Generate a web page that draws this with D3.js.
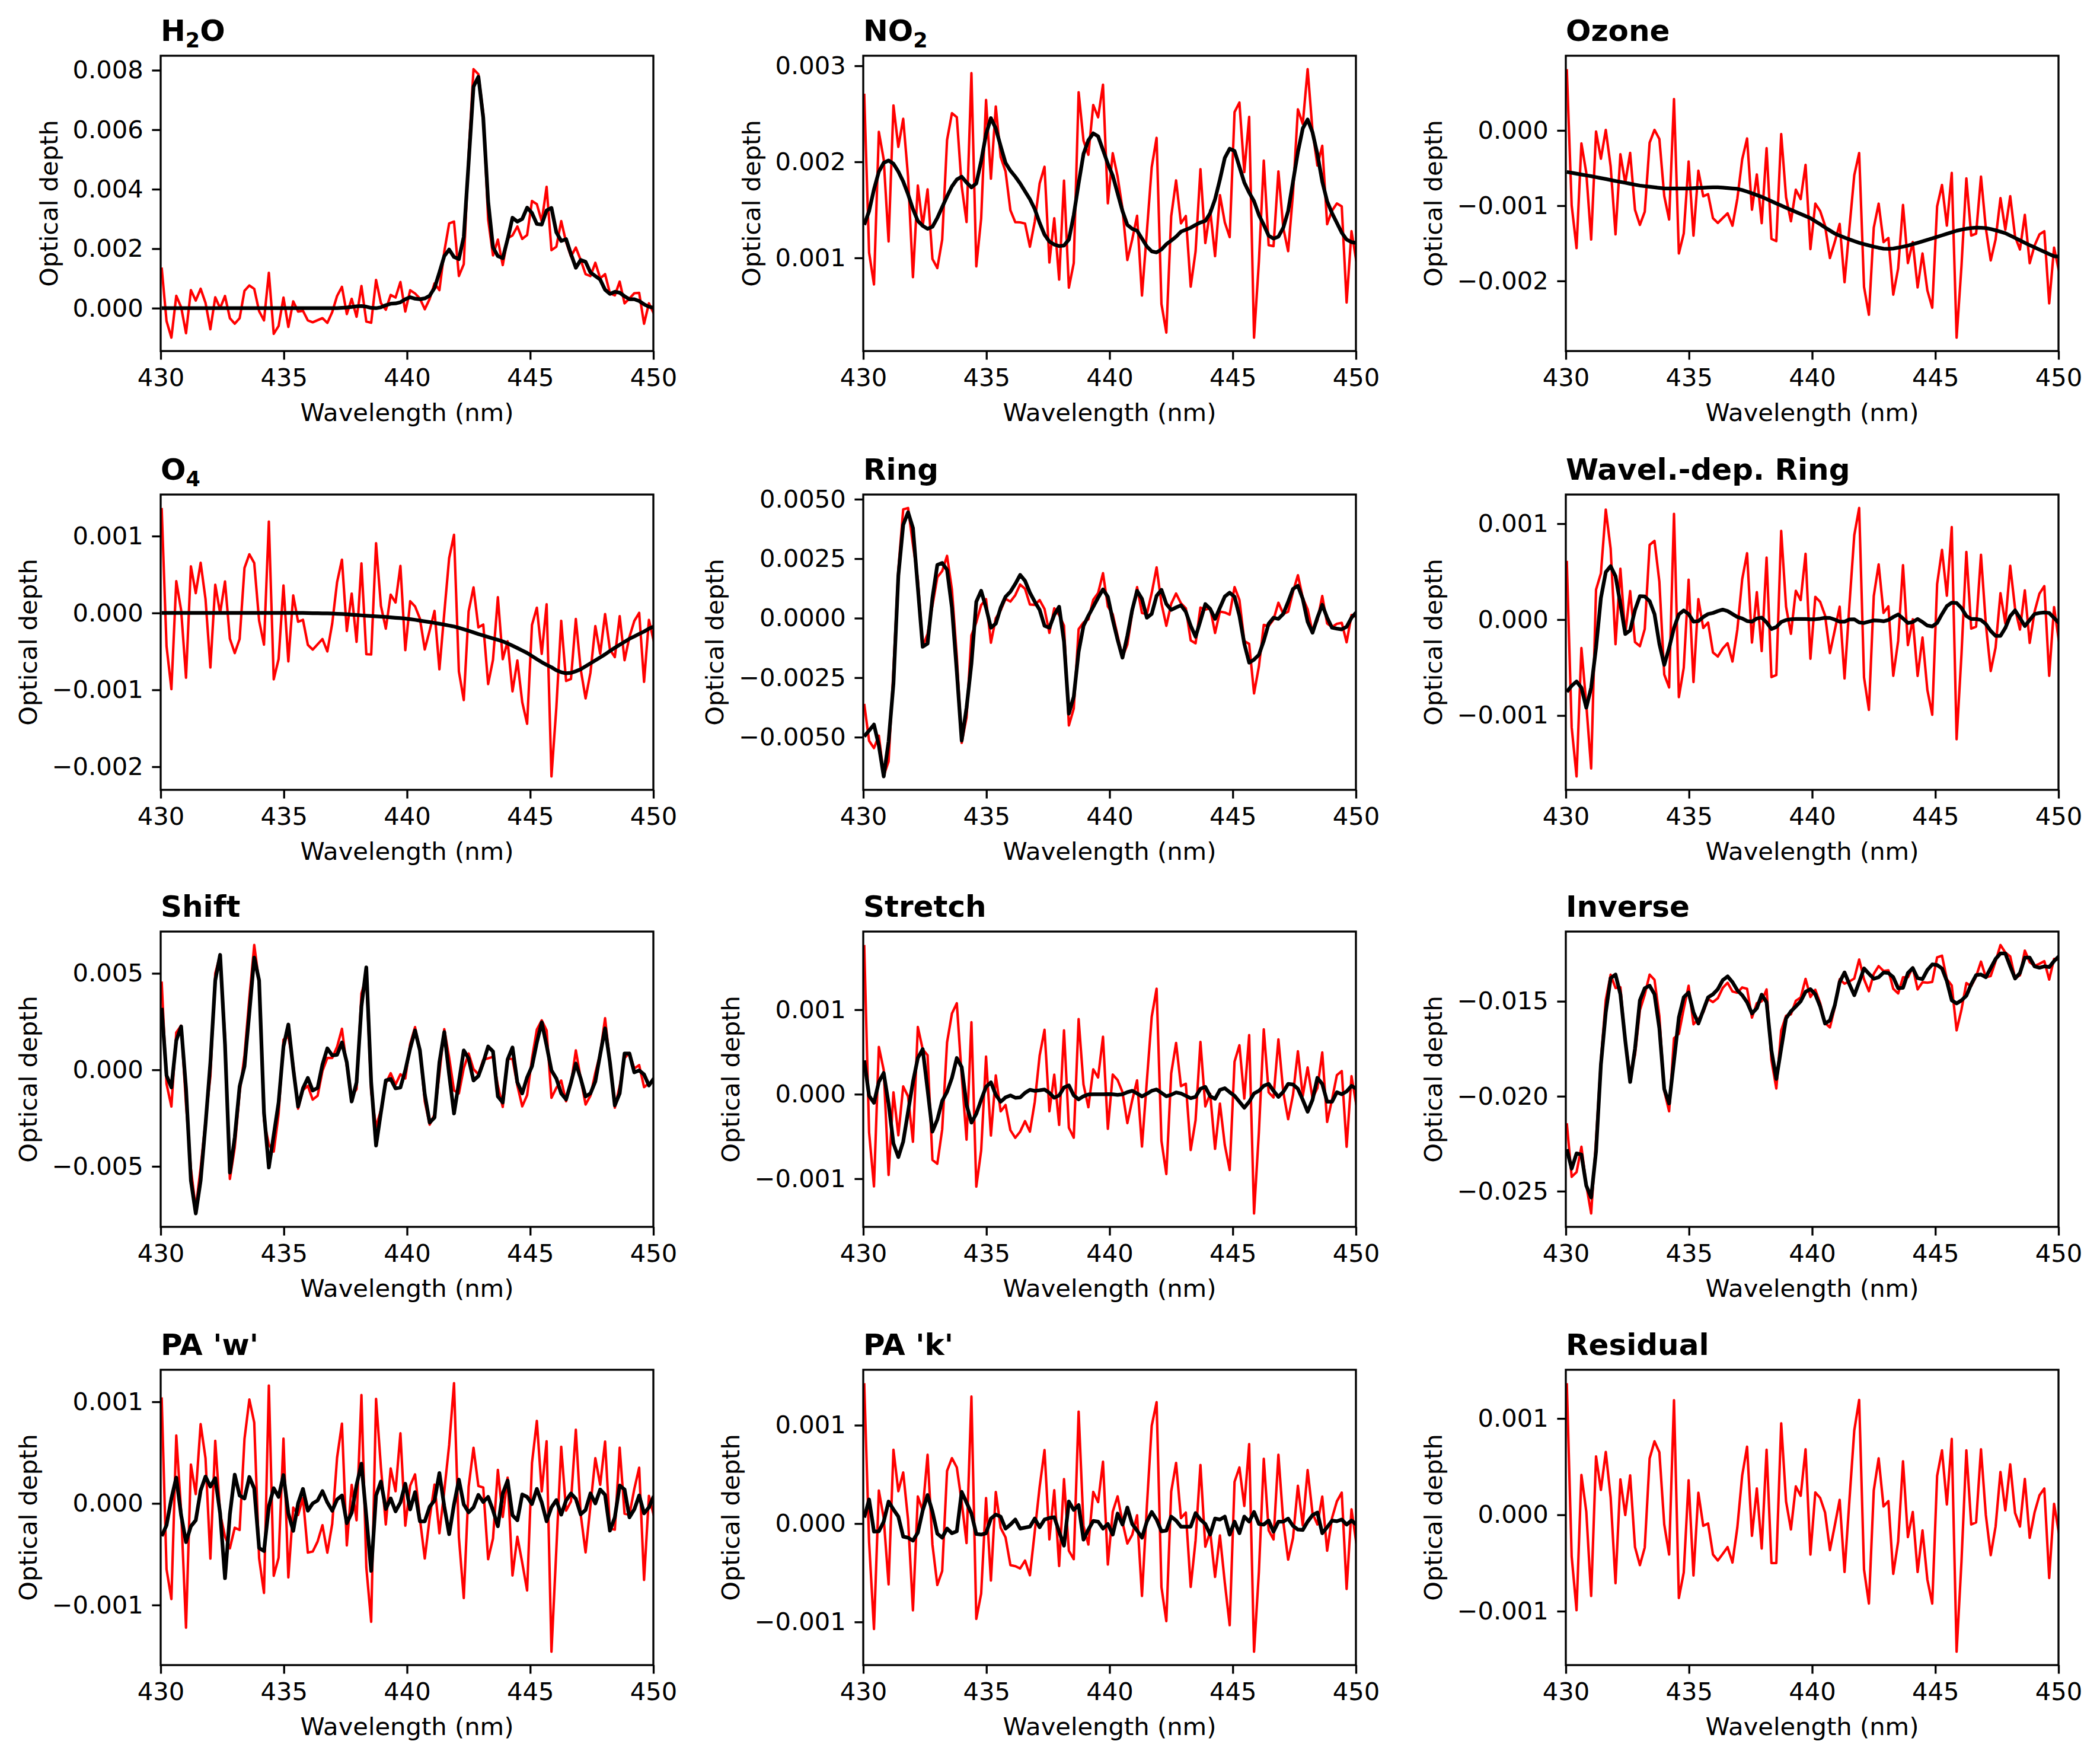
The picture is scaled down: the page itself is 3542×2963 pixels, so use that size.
<!DOCTYPE html>
<html lang="en">
<head>
<meta charset="utf-8">
<title>DOAS fit components</title>
<script src="https://cdn.jsdelivr.net/npm/d3@7"></script>
<style>
  body { margin: 0; background: #fff; }
  svg { display: block; font-family: "DejaVu Sans", sans-serif; }
</style>
</head>
<body>
<script>
// wavelength grid of the fit window (nm)
var nPoints = 102;
var wlStart = 430.04, wlStep = 0.1978;
var wavelengths = d3.range(nPoints).map(function (i) { return wlStart + i * wlStep; });

var residual = [
  1.366, -0.432, -0.990, 0.414, 0.035, -0.842, 0.607, 0.258, 0.653, 0.181,
  -0.709, 0.368, -0.002, 0.410, -0.335, -0.522, -0.339, 0.586, 0.763, 0.649,
  -0.100, -0.412, 1.189, -0.863, -0.599, 0.358, -0.630, 0.229, -0.114, -0.089,
  -0.412, -0.474, -0.405, -0.335, -0.495, -0.131, 0.410, 0.707, -0.218, 0.274,
  -0.349, 0.676, -0.501, -0.501, 0.950, 0.139, -0.152, 0.295, 0.198, 0.680,
  -0.412, 0.233, 0.175, 0.025, -0.366, -0.110, 0.156, -0.593, 0.150, 0.877,
  1.193, -0.568, -0.921, 0.254, 0.586, 0.087, 0.143, -0.613, -0.277, 0.555,
  -0.231, 0.029, -0.593, -0.162, -0.672, -0.921, 0.405, 0.669, 0.108, 0.788,
  -1.420, -0.484, 0.669, -0.100, -0.079, 0.680, -0.002, -0.418, -0.121, 0.445,
  0.046, 0.524, 0.019, -0.121, 0.372, -0.239, 0.025, 0.202, 0.274, -0.655,
  0.114, -0.193
];

var fitH2O = [
  0, 0, 0, 0, 0, 0, 0, 0, 0, 0,
  0, 0, 0, 0, 0, 0, 0, 0, 0, 0,
  0, 0, 0, 0, 0, 0, 0, 0, 0, 0,
  0, 0, 0, 0, 0, 0, 0, 0.01, 0.02, 0.04,
  0.06, 0.07, 0.05, 0.01, 0, 0.03, 0.10, 0.15, 0.16, 0.20,
  0.30, 0.37, 0.32, 0.30, 0.33, 0.42, 0.68, 1.20, 1.75, 1.97,
  1.72, 1.65, 2.40, 4.90, 7.45, 7.78, 6.40, 3.60, 2.05, 1.75,
  1.68, 2.32, 3.04, 2.91, 3.00, 3.38, 3.20, 2.83, 2.81, 3.29,
  3.37, 2.55, 2.26, 2.32, 1.82, 1.36, 1.62, 1.56, 1.20, 1.08,
  0.96, 0.62, 0.48, 0.55, 0.52, 0.40, 0.30, 0.30, 0.24, 0.13,
  0.05, 0.01
];

var fitNO2 = [
  1.344, 1.488, 1.713, 1.898, 1.990, 2.014, 1.980, 1.898, 1.795, 1.662,
  1.508, 1.385, 1.334, 1.303, 1.324, 1.416, 1.529, 1.641, 1.744, 1.816,
  1.846, 1.785, 1.734, 1.775, 2.010, 2.287, 2.455, 2.348, 2.164, 1.990,
  1.908, 1.846, 1.775, 1.693, 1.611, 1.508, 1.365, 1.242, 1.170, 1.139,
  1.123, 1.129, 1.191, 1.447, 1.775, 2.082, 2.225, 2.297, 2.266, 2.123,
  1.980, 1.857, 1.672, 1.488, 1.344, 1.303, 1.283, 1.201, 1.119, 1.068,
  1.057, 1.088, 1.143, 1.180, 1.221, 1.273, 1.293, 1.314, 1.344, 1.369,
  1.385, 1.467, 1.611, 1.816, 2.041, 2.137, 2.113, 1.949, 1.785, 1.680,
  1.590, 1.447, 1.344, 1.232, 1.201, 1.221, 1.314, 1.488, 1.795, 2.102,
  2.348, 2.441, 2.307, 2.082, 1.795, 1.590, 1.467, 1.365, 1.262, 1.191,
  1.164, 1.156
];

var fitOzone = [
  -0.552, -0.563, -0.574, -0.586, -0.597, -0.608, -0.621, -0.634, -0.646, -0.659,
  -0.672, -0.684, -0.696, -0.709, -0.721, -0.733, -0.741, -0.748, -0.756, -0.763,
  -0.771, -0.772, -0.772, -0.772, -0.771, -0.771, -0.768, -0.764, -0.761, -0.758,
  -0.755, -0.756, -0.760, -0.766, -0.771, -0.776, -0.793, -0.813, -0.836, -0.859,
  -0.883, -0.912, -0.941, -0.970, -0.998, -1.027, -1.055, -1.082, -1.110, -1.138,
  -1.165, -1.206, -1.247, -1.289, -1.330, -1.371, -1.398, -1.424, -1.448, -1.471,
  -1.493, -1.511, -1.528, -1.545, -1.559, -1.571, -1.573, -1.569, -1.558, -1.545,
  -1.531, -1.512, -1.493, -1.473, -1.454, -1.435, -1.414, -1.394, -1.373, -1.353,
  -1.333, -1.318, -1.306, -1.297, -1.292, -1.293, -1.298, -1.310, -1.327, -1.345,
  -1.365, -1.397, -1.429, -1.461, -1.493, -1.525, -1.554, -1.584, -1.613, -1.643,
  -1.672, -1.675
];

var fitO4 = [
  0, 0, 0, 0, 0, 0, 0, 0, 0, 0,
  0, 0, 0, 0, 0, 0, 0, 0, 0, 0,
  0, 0, 0, 0, 0, 0, 0, 0, 0, 0,
  -0.002, -0.003, -0.003, -0.004, -0.005, -0.007, -0.010, -0.013, -0.017, -0.022,
  -0.027, -0.031, -0.035, -0.039, -0.043, -0.047, -0.052, -0.057, -0.062, -0.067,
  -0.072, -0.080, -0.089, -0.099, -0.109, -0.118, -0.129, -0.140, -0.152, -0.164,
  -0.176, -0.193, -0.212, -0.232, -0.253, -0.274, -0.293, -0.312, -0.331, -0.350,
  -0.370, -0.397, -0.426, -0.456, -0.488, -0.520, -0.560, -0.600, -0.640, -0.675,
  -0.706, -0.745, -0.771, -0.784, -0.779, -0.758, -0.732, -0.693, -0.655, -0.616,
  -0.577, -0.538, -0.494, -0.453, -0.414, -0.375, -0.336, -0.305, -0.272, -0.241,
  -0.204, -0.176
];

var fitRing = [
  -4.97, -4.72, -4.47, -5.35, -6.65, -5.18, -2.75, 1.78, 3.92, 4.45,
  3.79, 1.28, -1.20, -1.07, 0.86, 2.24, 2.32, 2.03, 0.44, -2.25,
  -5.14, -3.76, -1.91, 0.69, 1.15, 0.44, -0.40, -0.23, 0.44, 0.90,
  1.11, 1.44, 1.82, 1.57, 1.07, 0.69, 0.35, -0.32, -0.40, 0.14,
  0.48, -0.99, -4.01, -3.30, -1.41, -0.32, 0.10, 0.48, 0.86, 1.21,
  0.90, -0.07, -0.91, -1.66, -0.74, 0.35, 1.15, 0.81, 0.02, 0.18,
  0.94, 1.19, 0.60, 0.35, 0.45, 0.54, 0.27, -0.32, -0.78, -0.11,
  0.59, 0.39, -0.03, 0.44, 0.91, 1.07, 0.90, 0.10, -1.07, -1.87,
  -1.74, -1.54, -0.95, -0.23, 0.02, -0.03, 0.18, 0.69, 1.23, 1.36,
  0.81, -0.15, -0.61, 0.02, 0.56, 0.02, -0.40, -0.44, -0.47, -0.36,
  0.02, 0.25
];

var fitWavelRing = [
  -0.753, -0.690, -0.645, -0.710, -0.918, -0.710, -0.295, 0.225, 0.495, 0.557,
  0.453, 0.162, -0.150, -0.112, 0.100, 0.245, 0.241, 0.193, 0.058, -0.254,
  -0.472, -0.295, -0.087, 0.054, 0.096, 0.058, -0.021, -0.015, 0.027, 0.058,
  0.069, 0.089, 0.104, 0.089, 0.058, 0.027, 0.012, -0.015, -0.021, 0.012,
  0.021, -0.029, -0.098, -0.077, -0.025, -0.004, 0.004, 0.006, 0.006, 0.006,
  0.004, 0.004, 0.010, 0.019, 0.017, 0.000, -0.021, -0.021, 0.002, 0.004,
  -0.029, -0.035, -0.021, -0.008, -0.010, -0.017, -0.004, 0.027, 0.054, 0.012,
  -0.035, -0.025, 0.006, -0.025, -0.062, -0.071, -0.035, 0.058, 0.141, 0.177,
  0.173, 0.121, 0.037, 0.006, 0.006, -0.004, -0.046, -0.118, -0.170, -0.170,
  -0.087, 0.037, 0.096, 0.017, -0.067, -0.004, 0.058, 0.069, 0.075, 0.069,
  0.017, -0.035
];

var fitShift = [
  3.21, -0.29, -0.91, 1.52, 2.25, -0.96, -5.73, -7.44, -5.73, -2.83,
  0.38, 4.63, 5.96, 1.32, -5.32, -3.50, -0.86, 0.18, 2.97, 5.82,
  4.63, -2.21, -5.06, -3.37, -1.69, 1.21, 2.35, 0.07, -1.90, -0.96,
  -0.42, -1.07, -0.94, 0.28, 1.11, 0.75, 0.78, 1.42, 0.38, -1.64,
  -0.65, 3.28, 5.31, -0.65, -3.92, -2.21, -0.55, -0.47, -0.96, -0.91,
  -0.03, 1.11, 2.04, 1.01, -1.27, -2.73, -2.47, 0.38, 1.96, -0.24,
  -2.26, -0.65, 1.01, 0.59, -0.55, -0.32, 0.38, 1.21, 0.95, -1.38,
  -1.69, 0.54, 1.16, -0.65, -1.22, -0.39, 0.18, 1.42, 2.46, 1.26,
  -0.03, -0.45, -1.22, -1.53, -0.65, 0.33, -0.45, -1.38, -1.22, -0.60,
  0.80, 2.15, 0.38, -1.84, -1.22, 0.85, 0.85, -0.13, -0.03, -0.24,
  -0.81, -0.45
];

var fitStretch = [
  0.40, -0.019, -0.101, 0.146, 0.252, -0.113, -0.584, -0.744, -0.560, -0.207,
  0.146, 0.428, 0.534, 0.052, -0.442, -0.301, -0.078, 0.028, 0.193, 0.428,
  0.322, -0.125, -0.336, -0.231, -0.066, 0.087, 0.141, -0.007, -0.089, -0.038,
  -0.014, -0.042, -0.038, 0.016, 0.052, 0.040, 0.047, 0.056, 0.016, -0.042,
  -0.014, 0.080, 0.104, -0.014, -0.061, -0.024, -0.002, 0, 0, 0,
  0.002, 0, -0.007, 0, 0.024, 0.040, 0.009, -0.026, 0.005, 0.040,
  0.056, 0.016, -0.024, -0.007, 0.021, 0.009, -0.019, -0.047, -0.031, 0.064,
  0.087, -0.024, -0.054, 0.052, 0.071, 0.024, -0.019, -0.089, -0.160, -0.089,
  0.009, 0.040, 0.099, 0.122, 0.040, -0.031, 0.028, 0.122, 0.115, 0.064,
  -0.066, -0.207, -0.066, 0.193, 0.122, -0.089, -0.089, 0.024, 0.000, 0.033,
  0.099, 0.064
];

var fitInverse = [
  -22.79, -23.81, -23.01, -23.07, -24.71, -25.33, -22.91, -18.34, -15.58, -13.78,
  -13.59, -14.63, -17.07, -19.25, -17.49, -14.95, -14.31, -14.18, -14.63, -16.43,
  -19.62, -20.38, -18.13, -15.85, -14.79, -14.54, -15.58, -16.17, -15.48, -14.79,
  -14.63, -14.36, -13.89, -13.69, -13.99, -14.42, -14.68, -15.05, -15.64, -15.37,
  -14.65, -15.05, -17.60, -19.09, -17.49, -15.90, -15.53, -15.27, -15.00, -14.50,
  -14.36, -14.63, -15.27, -16.17, -16.01, -15.21, -13.99, -13.48, -14.10, -14.68,
  -13.99, -13.27, -13.55, -13.81, -13.73, -13.49, -13.51, -13.73, -14.31, -14.29,
  -13.51, -13.25, -13.78, -13.83, -13.35, -13.06, -13.09, -13.27, -13.94, -14.95,
  -15.11, -14.95, -14.71, -14.10, -13.62, -13.59, -13.73, -13.25, -12.77, -12.48,
  -12.48, -13.16, -13.80, -13.51, -12.70, -12.70, -13.16, -13.23, -13.16, -13.20,
  -12.88, -12.63
];

var fitPAw = [
  -0.322, -0.215, 0.049, 0.254, -0.117, -0.381, -0.225, -0.166, 0.127, 0.264,
  0.166, 0.248, -0.098, -0.736, -0.107, 0.283, 0.078, 0.049, 0.260, 0.146,
  -0.439, -0.469, -0.029, 0.150, 0.064, 0.279, -0.098, -0.270, 0.000, 0.143,
  -0.072, 0.000, 0.029, 0.121, 0.010, -0.072, 0.039, 0.078, -0.195, -0.092,
  0.182, 0.391, -0.127, -0.664, 0.078, 0.215, -0.055, 0.049, -0.078, 0.010,
  0.193, -0.059, 0.111, -0.176, -0.176, -0.033, 0.029, 0.299, -0.029, -0.303,
  -0.010, 0.234, -0.010, -0.088, -0.039, 0.084, 0.014, 0.064, -0.068, -0.225,
  0.098, 0.225, -0.117, -0.166, 0.088, 0.064, -0.006, 0.143, 0.010, -0.176,
  -0.039, 0.033, -0.111, 0.029, 0.098, 0.045, -0.107, -0.064, 0.098, 0.000,
  0.137, 0.084, -0.268, -0.137, 0.176, 0.137, -0.137, -0.059, 0.078, -0.098,
  -0.039, 0.072
];

var fitPAk = [
  0.061, 0.245, -0.082, -0.078, 0.020, 0.224, 0.143, 0.071, -0.133, -0.143,
  -0.173, -0.092, 0.133, 0.290, 0.122, -0.102, -0.143, -0.051, -0.098, -0.078,
  0.322, 0.214, 0.102, -0.106, -0.112, -0.098, 0.051, 0.092, 0.071, -0.051,
  -0.010, 0.041, -0.051, -0.041, -0.031, 0.051, -0.037, 0.041, 0.057, 0.065,
  -0.082, -0.224, 0.224, 0.139, 0.188, -0.163, -0.061, 0.027, 0.020, -0.051,
  -0.004, -0.112, 0.102, -0.010, 0.163, -0.004, -0.071, -0.143, 0.020, 0.118,
  0.041, -0.078, -0.071, 0.071, 0.031, -0.031, -0.031, -0.031, 0.106, 0.041,
  -0.004, -0.112, 0.051, 0.041, 0.071, -0.112, 0.020, -0.098, 0.071, 0.020,
  0.118, -0.004, -0.010, 0.031, -0.082, 0.020, 0.020, 0.051, -0.024, -0.061,
  -0.065, 0.020, 0.086, 0.112, -0.098, -0.037, 0.031, 0.024, 0.041, -0.010,
  0.031, -0.010
];

var panelTitles = ["H_2O", "NO_2", "Ozone", "O_4", "Ring", "Wavel.-dep. Ring",
  "Shift", "Stretch", "Inverse", "PA 'w'", "PA 'k'", "Residual"];
var panelFits = [fitH2O, fitNO2, fitOzone, fitO4, fitRing, fitWavelRing,
  fitShift, fitStretch, fitInverse, fitPAw, fitPAk, null];

// y tick values (1e-3) and decimals of their labels
var yTickValues = [[0, 2, 4, 6, 8], [1, 2, 3], [-2, -1, 0], [-2, -1, 0, 1],
  [-5, -2.5, 0, 2.5, 5], [-1, 0, 1], [-5, 0, 5], [-1, 0, 1],
  [-25, -20, -15], [-1, 0, 1], [-1, 0, 1], [-1, 0, 1]];
var yTickDecimals = [3, 3, 3, 3, 4, 3, 3, 3, 3, 3, 3, 3];
var xTickValues = [430, 435, 440, 445, 450];

//Figure geometry (300 dpi)
var W = 3542, H = 2963;
var colLeft = [271, 1456, 2641];
var rowTop = [94, 834, 1571, 2310];
var axW = 831, axH = 498;
var pt = 300 / 72;
var fontSize = 10 * pt, titleSize = 12 * pt;
var tickLen = 3.5 * pt, tickPad = 3.5 * pt, labelPad = 4 * pt;

var svg = d3.select("body").append("svg")
  .attr("width", W).attr("height", H)
  .attr("viewBox", "0 0 " + W + " " + H);
svg.append("rect").attr("width", W).attr("height", H).attr("fill", "#fff");

var x = d3.scaleLinear().domain([430, 450]).range([0, axW]);

panelTitles.forEach(function (title, k) {
  var col = k % 3, row = Math.floor(k / 3);
  var g = svg.append("g")
    .attr("transform", "translate(" + colLeft[col] + "," + rowTop[row] + ")");

  // red trace = fitted component + residual, black trace = fitted component
  var fit = panelFits[k] ? panelFits[k].map(function (v) { return v * 1e-3; }) : null;
  var red = residual.map(function (r, i) { return (fit ? fit[i] : 0) + r * 1e-3; });

  var all = fit ? red.concat(fit) : red;
  var lo = d3.min(all), hi = d3.max(all);
  var margin = (hi - lo) * 0.05;
  var y = d3.scaleLinear().domain([lo - margin, hi + margin]).range([axH, 0]);

  g.append("clipPath").attr("id", "clip" + k)
    .append("rect").attr("width", axW).attr("height", axH);

  var line = d3.line()
    .x(function (d, i) { return x(wavelengths[i]); })
    .y(function (d) { return y(d); });

  var plot = g.append("g").attr("clip-path", "url(#clip" + k + ")");
  plot.append("path").datum(red)
    .attr("d", line)
    .attr("fill", "none").attr("stroke", "#ff0000")
    .attr("stroke-width", 1 * pt).attr("stroke-linejoin", "round");
  if (fit) {
    plot.append("path").datum(fit)
      .attr("d", line)
      .attr("fill", "none").attr("stroke", "#000")
      .attr("stroke-width", 1.5 * pt).attr("stroke-linejoin", "round");
  }

  // axes
  var fmt = d3.format("." + yTickDecimals[k] + "f");
  var xAxis = g.append("g").attr("transform", "translate(0," + axH + ")")
    .call(d3.axisBottom(x).tickValues(xTickValues).tickFormat(d3.format("d"))
      .tickSize(tickLen).tickPadding(tickPad));
  var yAxis = g.append("g")
    .call(d3.axisLeft(y).tickValues(yTickValues[k].map(function (v) { return v * 1e-3; }))
      .tickFormat(fmt).tickSize(tickLen).tickPadding(tickPad));

  [xAxis, yAxis].forEach(function (a) {
    a.select(".domain").remove();
    a.selectAll(".tick line").attr("stroke", "#000").attr("stroke-width", 0.8 * pt);
    a.selectAll(".tick text").attr("fill", "#000")
      .attr("font-size", fontSize).attr("font-family", "DejaVu Sans");
  });

  g.append("rect").attr("width", axW).attr("height", axH)
    .attr("fill", "none").attr("stroke", "#000").attr("stroke-width", 0.8 * pt);

  // axis labels
  g.append("text")
    .attr("x", axW / 2).attr("y", axH + 118)
    .attr("text-anchor", "middle").attr("font-size", fontSize)
    .text("Wavelength (nm)");

  var maxW = d3.max(yAxis.selectAll(".tick text").nodes(), function (n) { return n.getBBox().width; });
  var lx = -(tickLen + tickPad + maxW + labelPad) - 0.22 * fontSize;
  g.append("text")
    .attr("transform", "translate(" + lx + "," + (axH / 2) + ") rotate(-90)")
    .attr("text-anchor", "middle").attr("font-size", fontSize)
    .text("Optical depth");

  // title, "_" marks a one-character subscript
  var t = g.append("text")
    .attr("x", 0).attr("y", -6 * pt)
    .attr("font-size", titleSize).attr("font-weight", "bold");
  var parts = title.split("_");
  t.append("tspan").text(parts[0]);
  parts.slice(1).forEach(function (p) {
    t.append("tspan").attr("font-size", titleSize * 0.7).attr("dy", 0.22 * titleSize).text(p.charAt(0));
    if (p.length > 1) t.append("tspan").attr("dy", -0.22 * titleSize).text(p.slice(1));
  });
});
</script>
</body>
</html>
